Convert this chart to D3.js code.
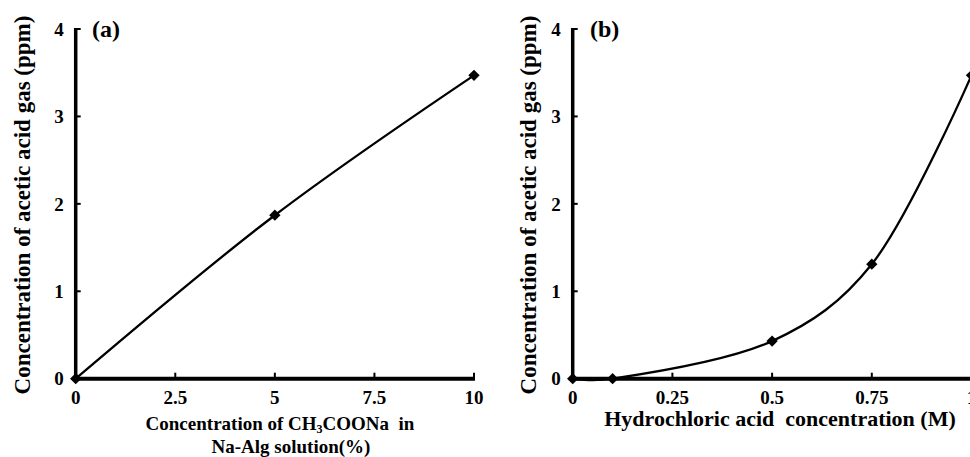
<!DOCTYPE html>
<html>
<head>
<meta charset="utf-8">
<script src="https://cdn.jsdelivr.net/npm/d3@7"></script>
<style>
  body { margin: 0; background: #fff; }
  svg text { font-family: "Liberation Serif", "Times New Roman", serif; font-weight: bold; fill: #000; }
</style>
</head>
<body>
<div id="container"></div>
<script>
/* DATA */
const naConc = [0, 5, 10];               // CH3COONa in Na-Alg (%)
const naGas = [0, 1.87, 3.47];           // acetic acid gas (ppm)
const hclConc = [0, 0.1, 0.5, 0.75, 1];  // HCl (M)
const hclGas = [0, 0, 0.43, 1.31, 3.47];

const xTicksA = [0, 2.5, 5, 7.5, 10];
const xTicksB = [0, 0.25, 0.5, 0.75, 1];
const yTicks = [0, 1, 2, 3, 4];
const yTitle = "Concentration of acetic acid gas (ppm)";

/* SIZES */
const W = 970, H = 457;
const y0 = 378.7, y4 = 29;

const svg = d3.select("#container")
  .append("svg")
  .attr("width", W)
  .attr("height", H);

function drawPanel(opts) {
  const xScale = d3.scaleLinear()
    .domain(opts.xDomain)
    .range(opts.xRange);
  const yScale = d3.scaleLinear()
    .domain([0, 4])
    .range([y0, y4]);

  const g = svg.append("g");

  // axes lines
  g.append("line")
    .attr("x1", xScale(opts.xDomain[0])).attr("x2", xScale(opts.xDomain[0]))
    .attr("y1", yScale(4) - 1).attr("y2", yScale(0) + 2)
    .attr("stroke", "#000").attr("stroke-width", 3.5);
  g.append("line")
    .attr("x1", xScale(opts.xDomain[0]) - 1.5).attr("x2", xScale(opts.xDomain[1]) + 1)
    .attr("y1", yScale(0)).attr("y2", yScale(0))
    .attr("stroke", "#000").attr("stroke-width", 4);

  // ticks pointing inward
  g.selectAll("line.ytick")
    .data(yTicks.slice(1))
    .join("line")
    .attr("class", "ytick")
    .attr("x1", xScale(opts.xDomain[0])).attr("x2", xScale(opts.xDomain[0]) + 5)
    .attr("y1", d => yScale(d)).attr("y2", d => yScale(d))
    .attr("stroke", "#000").attr("stroke-width", 2);
  g.selectAll("line.xtick")
    .data(opts.xTicks.slice(1))
    .join("line")
    .attr("class", "xtick")
    .attr("x1", d => xScale(d)).attr("x2", d => xScale(d))
    .attr("y1", yScale(0)).attr("y2", yScale(0) - 6)
    .attr("stroke", "#000").attr("stroke-width", 2);

  // tick labels
  g.selectAll("text.ylab")
    .data(yTicks)
    .join("text")
    .attr("class", "ylab")
    .attr("x", xScale(opts.xDomain[0]) - 12)
    .attr("y", d => yScale(d))
    .attr("dy", "0.35em")
    .attr("text-anchor", "end")
    .style("font-size", "19px")
    .text(d => d);
  g.selectAll("text.xlab")
    .data(opts.xTicks)
    .join("text")
    .attr("class", "xlab")
    .attr("x", d => xScale(d))
    .attr("y", 404)
    .attr("text-anchor", "middle")
    .style("font-size", "19px")
    .text(d => d);

  // y title
  g.append("text")
    .attr("transform", `translate(${opts.yTitleX}, ${(12 + 398) / 2}) rotate(-90)`)
    .attr("text-anchor", "middle")
    .attr("dy", "0.35em")
    .style("font-size", "23px")
    .text(yTitle);

  // panel label
  g.append("text")
    .attr("x", opts.labelX)
    .attr("y", 37)
    .style("font-size", "24px")
    .text(opts.label);

  // curve and markers
  const pts = opts.xs.map((x, i) => [x, opts.ys[i]]);
  const line = d3.line()
    .x(d => xScale(d[0]))
    .y(d => yScale(d[1]))
    .curve(d3.curveCatmullRom.alpha(0.3));
  g.append("path")
    .datum(pts)
    .attr("d", line)
    .attr("fill", "none")
    .attr("stroke", "#000")
    .attr("stroke-width", 2.3);

  g.selectAll("path.marker")
    .data(pts)
    .join("path")
    .attr("class", "marker")
    .attr("d", d3.symbol(d3.symbolSquare, 64))
    .attr("transform", d => `translate(${xScale(d[0])}, ${yScale(d[1])}) rotate(45)`)
    .attr("fill", "#000");

  return g;
}

const gA = drawPanel({
  xs: naConc, ys: naGas,
  xDomain: [0, 10], xRange: [75.7, 474],
  xTicks: xTicksA,
  yTitleX: 22, labelX: 92, label: "(a)"
});

// x title, panel a, two lines with subscript
const tA = gA.append("text")
  .attr("x", 280)
  .attr("y", 430)
  .attr("text-anchor", "middle")
  .attr("xml:space", "preserve")
  .style("white-space", "pre")
  .style("font-size", "19px");
tA.append("tspan").text("Concentration of CH");
tA.append("tspan").attr("dy", 3).style("font-size", "12px").text("3");
tA.append("tspan").attr("dy", -3).text("COONa  in");
gA.append("text")
  .attr("x", 291)
  .attr("y", 453)
  .attr("text-anchor", "middle")
  .style("font-size", "19px")
  .text("Na-Alg solution(%)");

const gB = drawPanel({
  xs: hclConc, ys: hclGas,
  xDomain: [0, 1], xRange: [572.7, 971.5],
  xTicks: xTicksB,
  yTitleX: 528, labelX: 590, label: "(b)"
});

gB.append("text")
  .attr("x", 780)
  .attr("y", 426)
  .attr("text-anchor", "middle")
  .attr("xml:space", "preserve")
  .style("white-space", "pre")
  .style("font-size", "22px")
  .text("Hydrochloric acid  concentration (M)");
</script>
</body>
</html>
